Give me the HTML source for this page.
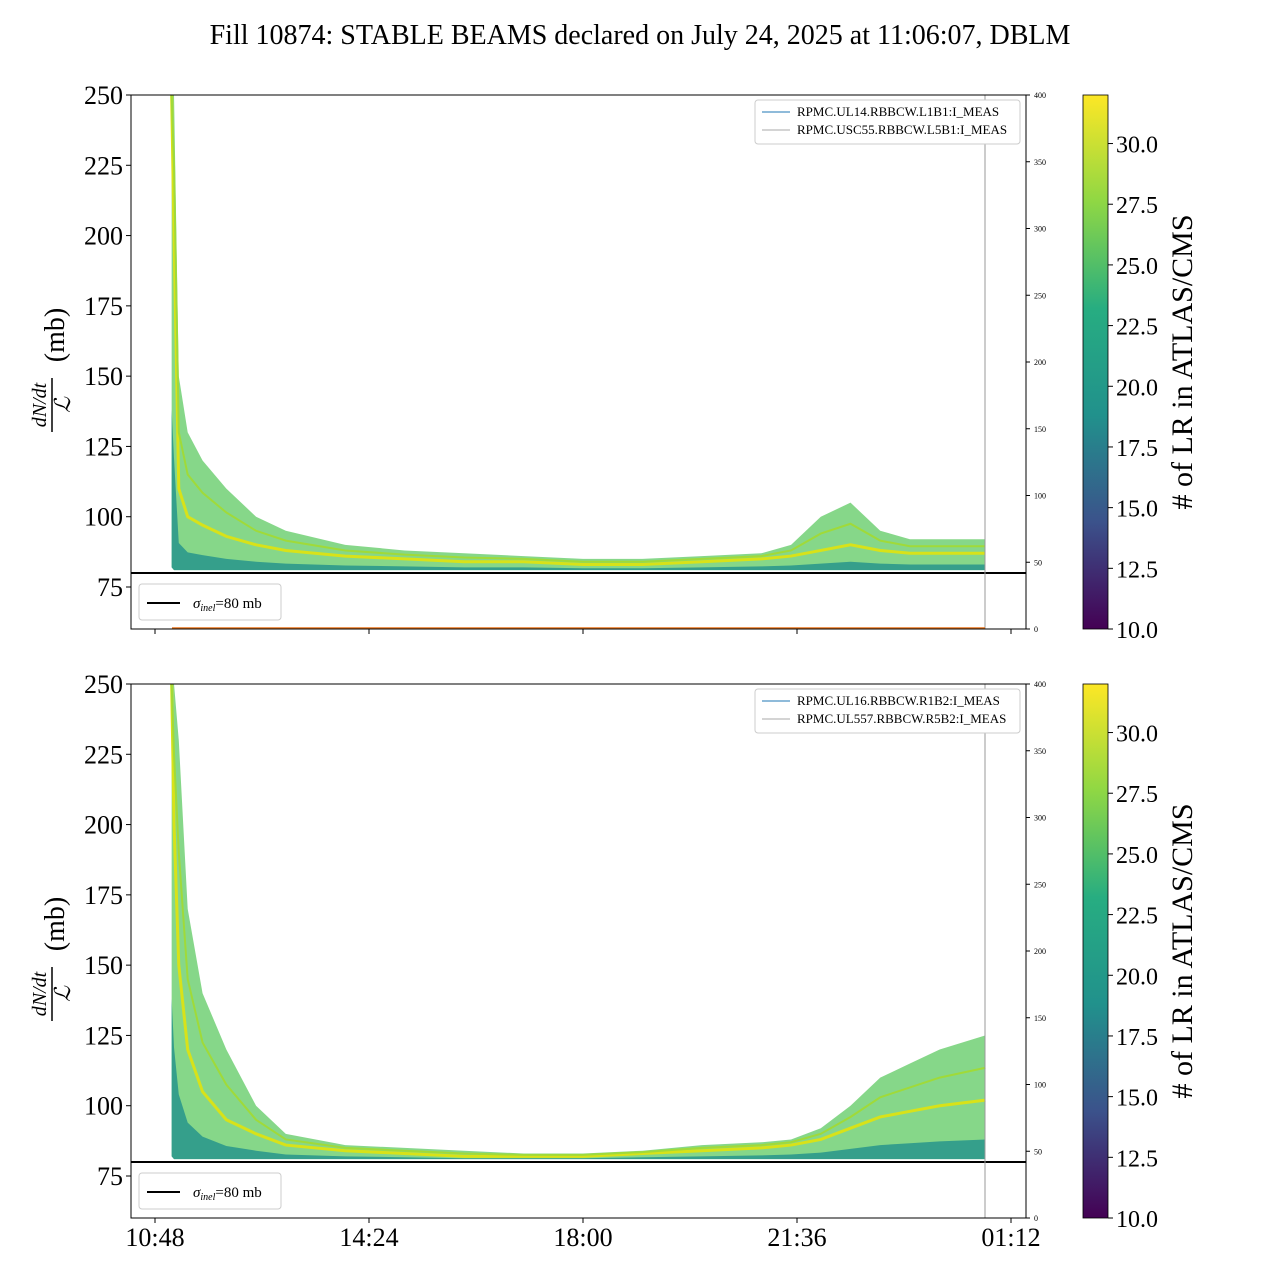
<!DOCTYPE html>
<html><head><meta charset="utf-8"><style>
body{margin:0;background:#fff}
svg{display:block;font-family:"Liberation Serif",serif}
</style></head><body>
<svg id="chart" width="1280" height="1280" viewBox="0 0 1280 1280">
<defs>
<linearGradient id="vir" x1="0" y1="1" x2="0" y2="0">
<stop offset="0" stop-color="#440154"/><stop offset="0.2" stop-color="#3b528b"/><stop offset="0.4" stop-color="#21918c"/><stop offset="0.6" stop-color="#27ad81"/><stop offset="0.8" stop-color="#8fd744"/><stop offset="1" stop-color="#fde725"/>
</linearGradient>
</defs>
<text x="640" y="44" font-size="28" text-anchor="middle">Fill 10874: STABLE BEAMS declared on July 24, 2025 at 11:06:07, DBLM</text>
<g id="panels"></g>
</svg>
<script>
const times=[11.08,11.12,11.2,11.35,11.6,12.0,12.5,13,14,15,16,17,18,19,20,21,21.5,22,22.5,23,23.5,24,24.77];
const topUpper=[250,250,150,130,120,110,100,95,90,88,87,86,85,85,86,87,90,100,105,95,92,92,92];
const topMid=[250,200,110,100,97,93,90,88,86,85,84,84,83,83,84,85,86,88,90,88,87,87,87];
const topLower=[82,81,81,81,81,81,81,81,81,81,81,81,81,81,81,81,81,81,81,81,81,81,81];
const botUpper=[250,250,230,170,140,120,100,90,86,85,84,83,83,84,86,87,88,92,100,110,115,120,125];
const botMid=[250,200,150,120,105,95,90,86,84,83,82,82,82,83,84,85,86,88,92,96,98,100,102];
const botLower=[82,81,81,81,81,81,81,81,81,81,81,81,81,81,81,81,81,81,81,81,81,81,81];
const yTicks=[75,100,125,150,175,200,225,250];
const rTicks=[0,50,100,150,200,250,300,350,400];
const xTickHours=[10.8,14.4,18,21.6,25.2];
const xTickLabels=["10:48","14:24","18:00","21:36","01:12"];
const cbTicks=[10,12.5,15,17.5,20,22.5,25,27.5,30];
const legendTop=["RPMC.UL14.RBBCW.L1B1:I_MEAS","RPMC.USC55.RBBCW.L5B1:I_MEAS"];
const legendBot=["RPMC.UL16.RBBCW.R1B2:I_MEAS","RPMC.UL557.RBBCW.R5B2:I_MEAS"];

const NS="http://www.w3.org/2000/svg";
const root=document.getElementById('panels');
function mk(tag,attrs,parent){const e=document.createElementNS(NS,tag);for(const k in attrs)e.setAttribute(k,attrs[k]);(parent||root).appendChild(e);return e;}
const X0=131,X1=1026;
const xs=h=>155+(h-10.8)*(214/3.6);

function panel(top,upper,mid,lower,legend,showX,idx){
  const bot=top+534;
  const ys=v=>top+(250-v)*(492/175);
  const rs=v=>bot-v*(534/400);
  const g=mk('g',{});
  
  
  let pts=times.map((t,i)=>xs(t)+','+ys(upper[i]));
  for(let i=times.length-1;i>=0;i--)pts.push(xs(times[i])+','+ys(lower[i]));
  const band=mk('polygon',{points:pts.join(' '),fill:'#5ec962','fill-opacity':'0.75'},g);
  
  
  let pts2=times.map((t,i)=>xs(t)+','+ys((mid[i]+2*lower[i])/3));
  for(let i=times.length-1;i>=0;i--)pts2.push(xs(times[i])+','+ys(lower[i]));
  const band2=mk('polygon',{points:pts2.join(' '),fill:'#21918c','fill-opacity':'0.8'},g);
  
  
  const ml=mk('polyline',{points:times.map((t,i)=>xs(t)+','+ys(mid[i])).join(' '),fill:'none',stroke:'#d8e219','stroke-width':'3'},g);
  
  
  const ml2=mk('polyline',{points:times.map((t,i)=>xs(t)+','+ys((mid[i]+upper[i])/2)).join(' '),fill:'none',stroke:'#a0da39','stroke-width':'2'},g);
  
  
  const sl=mk('line',{x1:X0,x2:X1,y1:ys(80),y2:ys(80),stroke:'#000','stroke-width':'2'},g);
  
  
  const vl=mk('line',{x1:985,x2:985,y1:top,y2:bot,stroke:'#999','stroke-width':'1'},g);
  
  
  if(idx===1){const ol=mk('line',{x1:172,x2:985,y1:bot-1,y2:bot-1,stroke:'#e8731a','stroke-width':'1.5'},g);
    
    }
  const fr=mk('rect',{x:X0,y:top,width:X1-X0,height:bot-top,fill:'none',stroke:'#000','stroke-width':'1'},g);
  
  
  yTicks.forEach(v=>{mk('line',{x1:X0-5,x2:X0,y1:ys(v),y2:ys(v),stroke:'#000'},g);
    const t=mk('text',{x:X0-8,y:ys(v)+9,'font-size':'26','text-anchor':'end'},g);t.textContent=v;
    
    });
  rTicks.forEach(v=>{mk('line',{x1:X1,x2:X1+4,y1:rs(v),y2:rs(v),stroke:'#000'},g);
    const t=mk('text',{x:X1+8,y:rs(v)+3,'font-size':'8'},g);t.textContent=v;
    
    });
  xTickHours.forEach((h,i)=>{mk('line',{x1:xs(h),x2:xs(h),y1:bot,y2:bot+5,stroke:'#000'},g);
    if(showX){const t=mk('text',{x:xs(h),y:bot+28,'font-size':'26','text-anchor':'middle'},g);t.textContent=xTickLabels[i];
      
      }});
  const yl=mk('g',{transform:`translate(56,${top+265}) rotate(-90)`},g);
  
  
  let a=mk('text',{x:-45,y:-10,'font-size':'20','font-style':'italic','text-anchor':'middle'},yl);a.textContent='dN/dt';
  mk('line',{x1:-72,x2:-18,y1:-4,y2:-4,stroke:'#000','stroke-width':'1.5'},yl);
  a=mk('text',{x:-45,y:14,'font-size':'22','font-style':'italic','text-anchor':'middle'},yl);a.textContent='ℒ';
  a=mk('text',{x:25,y:8,'font-size':'28','text-anchor':'middle'},yl);a.textContent='(mb)';
  const lg=mk('g',{},g);
  
  
  mk('rect',{x:755,y:top+5,width:265,height:44,rx:3,fill:'#fff',stroke:'#ccc'},lg);
  mk('line',{x1:762,x2:790,y1:top+17,y2:top+17,stroke:'#1f77b4'},lg);
  mk('line',{x1:762,x2:790,y1:top+35,y2:top+35,stroke:'#aaa'},lg);
  legend.forEach((s,i)=>{const t=mk('text',{x:797,y:top+21+i*18,'font-size':'13'},lg);t.textContent=s;});
  const sg=mk('g',{},g);
  
  
  mk('rect',{x:139,y:bot-45,width:142,height:36,rx:3,fill:'#fff',stroke:'#ccc'},sg);
  mk('line',{x1:147,x2:180,y1:bot-26,y2:bot-26,stroke:'#000','stroke-width':'2'},sg);
  const st=mk('text',{x:193,y:bot-21,'font-size':'15'},sg);
  st.innerHTML='<tspan font-style="italic">σ</tspan><tspan font-style="italic" font-size="10" dy="3">inel</tspan><tspan dy="-3">=80 mb</tspan>';
  const cb=mk('g',{},g);
  
  
  mk('rect',{x:1083,y:top,width:25,height:bot-top,fill:'url(#vir)',stroke:'#000','stroke-width':'0.8'},cb);
  const cs=v=>bot-(v-10)*((bot-top)/22);
  cbTicks.forEach(v=>{mk('line',{x1:1108,x2:1113,y1:cs(v),y2:cs(v),stroke:'#000'},cb);
    const t=mk('text',{x:1116,y:cs(v)+9,'font-size':'24'},cb);t.textContent=v.toFixed(1);});
  const ct=mk('text',{x:0,y:0,'font-size':'30','text-anchor':'middle',transform:`translate(1192,${top+267}) rotate(-90)`},cb);
  ct.textContent='# of LR in ATLAS/CMS';
}
panel(95,topUpper,topMid,topLower,legendTop,false,1);
panel(684,botUpper,botMid,botLower,legendBot,true,2);
</script>
</body></html>
